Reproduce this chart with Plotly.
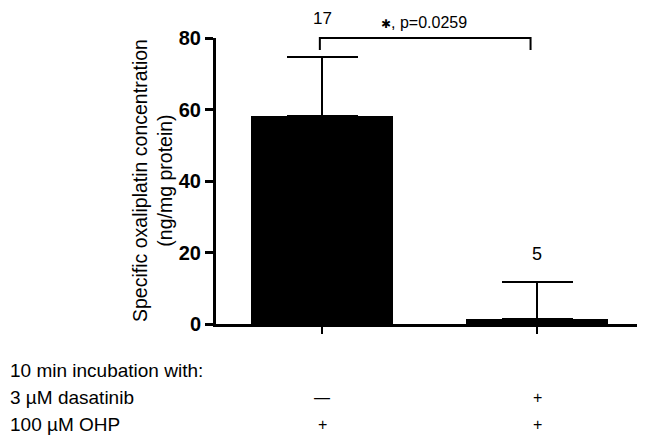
import plotly.graph_objects as go

# ---- data ----
categories = [0, 1]
group_names = ["OHP alone", "dasatinib + OHP"]
means = [58.2, 1.4]
errors_up = [16.5, 10.4]
n_labels = ["17", "5"]
row_titles = ["10 min incubation with:", "3 µM dasatinib", "100 µM OHP"]
dasatinib_row = ["—", "+"]
ohp_row = ["+", "+"]
p_text = "<span style='font-size:12px'>✱</span>, p=0.0259"
y_ticks = [0, 20, 40, 60, 80]

# ---- layout geometry (pixels) ----
OFF = 8  # page body margin
W, H = 645 - OFF, 439 - OFF
L, R, T, B = 216 - OFF, 2, 38 - OFF, 115
PW = W - L - R
PH = H - T - B
XR = [-0.493, 1.493]
PLOT_LEFT_PAGE = L + OFF
PLOT_BOTTOM_PAGE = T + OFF + PH

def px_x(px):
    return (px - PLOT_LEFT_PAGE) / PW

def px_y(py):
    return (PLOT_BOTTOM_PAGE - py) / PH

def dx_paper(x):
    return (x - XR[0]) / (XR[1] - XR[0])

FONT = "Arial, 'Liberation Sans', sans-serif"

fig = go.Figure()
fig.add_trace(go.Bar(
    x=categories, y=means, width=0.665,
    marker=dict(color="black", line=dict(width=0)),
    error_y=dict(type="data", symmetric=False, array=errors_up,
                 arrayminus=[0, 0], color="black", thickness=2, width=35.5),
    hoverinfo="y", showlegend=False,
))

annotations = []
# n labels
annotations.append(dict(x=categories[0], y=px_y(19), xref="x", yref="paper",
                        text=n_labels[0], showarrow=False, yanchor="middle",
                        borderpad=0,
                        font=dict(size=17, color="black", family=FONT)))
annotations.append(dict(x=categories[1], y=means[1] + errors_up[1] + 7.8,
                        xref="x", yref="y", text=n_labels[1], showarrow=False,
                        yanchor="middle",
                        font=dict(size=18, color="black", family=FONT)))
# p value
annotations.append(dict(x=0.475, y=px_y(23), xref="x", yref="paper",
                        text=p_text, showarrow=False, yanchor="middle",
                        font=dict(size=16, color="black", family=FONT)))
# y title
annotations.append(dict(x=px_x(152), y=0.5, xref="paper", yref="paper",
                        text="Specific oxaliplatin concentration<br>(ng/mg protein)",
                        textangle=-90, showarrow=False, xanchor="center", yanchor="middle",
                        font=dict(size=19.5, color="black", family=FONT)))
# bottom table
row_y = [370, 397, 424]
for t, yy in zip(row_titles, row_y):
    annotations.append(dict(x=px_x(OFF), y=px_y(yy), xref="paper", yref="paper",
                            text=t, showarrow=False, xanchor="left", yanchor="middle",
                            font=dict(size=19, color="black", family=FONT)))
for c, s in zip(categories, dasatinib_row):
    annotations.append(dict(x=c, y=px_y(row_y[1]), xref="x", yref="paper",
                            text=s, showarrow=False, yanchor="middle",
                            font=dict(size=16, color="black", family=FONT)))
for c, s in zip(categories, ohp_row):
    annotations.append(dict(x=c, y=px_y(row_y[2]), xref="x", yref="paper",
                            text=s, showarrow=False, yanchor="middle",
                            font=dict(size=16, color="black", family=FONT)))

# significance bracket
bx0, bx1 = dx_paper(-0.01), dx_paper(0.97)
by_top, by_bot = px_y(38), px_y(50)
shapes = [dict(type="path", xref="paper", yref="paper",
               path=f"M {bx0} {by_bot} L {bx0} {by_top} L {bx1} {by_top} L {bx1} {by_bot}",
               line=dict(color="black", width=2))]

fig.update_layout(
    width=W, height=H,
    margin=dict(l=L, r=R, t=T, b=B, pad=0),
    plot_bgcolor="white", paper_bgcolor="white",
    bargap=0,
    annotations=annotations,
    shapes=shapes,
    xaxis=dict(range=XR, tickvals=categories, showticklabels=False,
               ticks="outside", ticklen=7, tickwidth=2, tickcolor="black",
               showline=True, linecolor="black", linewidth=3,
               showgrid=False, zeroline=False, fixedrange=True),
    yaxis=dict(range=[0, 80], tickvals=y_ticks,
               ticks="outside", ticklen=8, tickwidth=2.5, tickcolor="black",
               tickfont=dict(size=20, color="black", family=FONT, weight="bold"),
               showline=True, linecolor="black", linewidth=3,
               showgrid=False, zeroline=False, fixedrange=True),
    font=dict(family=FONT, color="black"),
)

fig.write_html("out.html")
